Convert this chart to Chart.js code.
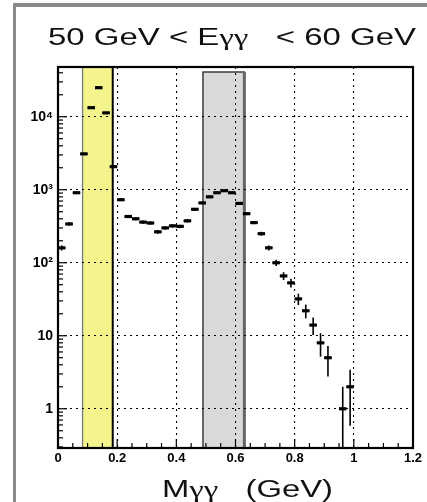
<!DOCTYPE html>
<html>
<head>
<meta charset="utf-8">
<script src="https://cdn.jsdelivr.net/npm/chart.js@4.4.1/dist/chart.umd.min.js"></script>
<style>
  html, body { margin: 0; padding: 0; background: #fff; }
  #wrap { position: relative; width: 427px; height: 502px; overflow: hidden; }
  #frame { position: absolute; left: 13px; top: 3px; right: 0; bottom: 0; border-left: 3px solid #8a8a8a; border-top: 4px solid #8a8a8a; pointer-events: none; }
  canvas { position: absolute; left: 0; top: 0; }
</style>
</head>
<body>
<div id="wrap">
  <canvas id="chart" width="427" height="502"></canvas>
  <div id="frame"></div>
</div>
<script>
// bin centres (GeV), bin width 0.025
const massBins = [0.0125, 0.0375, 0.0625, 0.0875, 0.1125, 0.1375, 0.1625, 0.1875, 0.2125, 0.2375,
                  0.2625, 0.2875, 0.3125, 0.3375, 0.3625, 0.3875, 0.4125, 0.4375, 0.4625, 0.4875,
                  0.5125, 0.5375, 0.5625, 0.5875, 0.6125, 0.6375, 0.6625, 0.6875, 0.7125, 0.7375,
                  0.7625, 0.7875, 0.8125, 0.8375, 0.8625, 0.8875, 0.9125, 0.9625, 0.9875];
const counts = [160, 340, 910, 3100, 13300, 25000, 11300, 2070, 730, 430,
                400, 360, 350, 265, 300, 320, 315, 375, 540, 660,
                800, 910, 970, 910, 650, 470, 355, 250, 160, 100,
                66, 53, 32, 22, 14, 8, 5, 1, 2];
const binWidth = 0.025;

const xTickValues = [0, 0.2, 0.4, 0.6, 0.8, 1, 1.2];
const xTickLabels = ['0', '0.2', '0.4', '0.6', '0.8', '1', '1.2'];
const yTickValues = [1, 10, 100, 1000, 10000];
const yTickLabels = ['1', '10', '10\u00b2', '10\u00b3', '10\u2074'];

const piBand = [0.083, 0.185];
const etaBand = [0.49, 0.63];
const etaBandTop = 41000;

const titleText = '50 GeV < E\u03b3\u03b3   < 60 GeV';
const xTitleText = 'M\u03b3\u03b3   (GeV)';

const sansFont = '"Liberation Sans", Arial, sans-serif';
const greekFont = '"Liberation Serif", "DejaVu Serif", serif';

function line(ctx, x1, y1, x2, y2) {
    ctx.beginPath();
    ctx.moveTo(x1, y1);
    ctx.lineTo(x2, y2);
    ctx.stroke();
}

// text stretched between two x positions, gammas in a serif face like ROOT's symbol font
function stretchedText(ctx, text, left, right, baseline, size) {
    const parts = text.split(/(\u03b3+)/).filter(p => p.length);
    ctx.save();
    const widths = parts.map(p => {
        ctx.font = size + 'px ' + (p[0] === '\u03b3' ? greekFont : sansFont);
        return ctx.measureText(p).width;
    });
    const total = widths.reduce((s, w) => s + w, 0);
    ctx.translate(left, baseline);
    ctx.scale((right - left) / total, 1);
    ctx.textAlign = 'left';
    ctx.textBaseline = 'alphabetic';
    ctx.fillStyle = '#111';
    let cx = 0;
    parts.forEach((p, i) => {
        ctx.font = size + 'px ' + (p[0] === '\u03b3' ? greekFont : sansFont);
        ctx.fillText(p, cx, 0);
        cx += widths[i];
    });
    ctx.restore();
}

const bands = {
    id: 'bands',
    beforeDraw(chart) {
        const {ctx, chartArea: a, scales: {x, y}} = chart;
        ctx.save();
        const pl = x.getPixelForValue(piBand[0]);
        const pr = x.getPixelForValue(piBand[1]);
        ctx.fillStyle = '#f4f48c';
        ctx.fillRect(pl, a.top, pr - pl, a.bottom - a.top);
        ctx.strokeStyle = '#777';
        ctx.lineWidth = 1.3;
        line(ctx, pl, a.top, pl, a.bottom);
        ctx.strokeStyle = '#000';
        ctx.lineWidth = 2;
        line(ctx, pr, a.top, pr, a.bottom);

        const gl = x.getPixelForValue(etaBand[0]);
        const gr = x.getPixelForValue(etaBand[1]);
        const gt = y.getPixelForValue(etaBandTop);
        ctx.fillStyle = '#d9d9d9';
        ctx.fillRect(gl, gt, gr - gl, a.bottom - gt);
        ctx.strokeStyle = '#222';
        ctx.lineWidth = 1.3;
        ctx.strokeRect(gl, gt, gr - gl, a.bottom - gt);
        ctx.strokeStyle = '#666';
        ctx.lineWidth = 3;
        line(ctx, gr, gt, gr, a.bottom);
        ctx.restore();
    }
};

const errorBars = {
    id: 'errorBars',
    afterDatasetsDraw(chart) {
        const {ctx, chartArea: a, scales: {x, y}} = chart;
        ctx.save();
        ctx.beginPath();
        ctx.rect(a.left, a.top, a.right - a.left, a.bottom - a.top);
        ctx.clip();
        ctx.strokeStyle = '#000';
        ctx.lineWidth = 1.6;
        massBins.forEach((m, i) => {
            const n = counts[i];
            const e = Math.sqrt(n);
            const px = x.getPixelForValue(m);
            const top = y.getPixelForValue(n + e);
            const bot = n - e > 0 ? y.getPixelForValue(n - e) : a.bottom;
            line(ctx, px, top, px, bot);
            line(ctx, x.getPixelForValue(m - binWidth / 2), y.getPixelForValue(n),
                      x.getPixelForValue(m + binWidth / 2), y.getPixelForValue(n));
        });
        ctx.restore();
    }
};

const frameTicks = {
    id: 'frameTicks',
    afterDraw(chart) {
        const {ctx, chartArea: a, scales: {x, y}} = chart;
        ctx.save();
        ctx.strokeStyle = '#000';
        ctx.lineWidth = 1.2;
        for (let k = 0; k <= 24; k++) {
            const px = x.getPixelForValue(k * 0.05);
            line(ctx, px, a.bottom, px, a.bottom - (k % 4 === 0 ? 9 : 5));
        }
        for (let d = -1; d <= 4; d++) {
            for (let m = 1; m <= 9; m++) {
                const v = m * Math.pow(10, d);
                if (v < y.min || v > y.max) continue;
                const py = y.getPixelForValue(v);
                line(ctx, a.left, py, a.left + (m === 1 ? 9 : 5), py);
            }
        }
        ctx.lineWidth = 2.2;
        ctx.strokeRect(a.left, a.top, a.right - a.left, a.bottom - a.top);
        ctx.restore();

        stretchedText(ctx, titleText, 48, 416, 45, 23);
        stretchedText(ctx, xTitleText, 162, 333, 497, 23);
    }
};

const tickFont = {family: sansFont, size: 13, weight: 'bold'};

new Chart(document.getElementById('chart'), {
    type: 'scatter',
    data: {
        datasets: [{
            data: massBins.map((m, i) => ({x: m, y: counts[i]})),
            pointStyle: 'line',
            pointRadius: 3.7,
            borderColor: '#000',
            backgroundColor: '#000',
            borderWidth: 3.2
        }]
    },
    options: {
        responsive: false,
        animation: false,
        events: [],
        layout: {
            padding: {left: 0, right: 14, top: 67, bottom: 0}
        },
        plugins: {
            legend: {display: false},
            tooltip: {enabled: false},
            title: {display: false}
        },
        scales: {
            x: {
                type: 'linear',
                min: 0,
                max: 1.2,
                afterBuildTicks: s => { s.ticks = xTickValues.map(v => ({value: v})); },
                afterFit: s => { s.height = 54; },
                ticks: {
                    color: '#000',
                    font: tickFont,
                    padding: 3,
                    maxRotation: 0,
                    autoSkip: false,
                    callback: (v, i) => xTickLabels[i]
                },
                grid: {color: '#000', lineWidth: 1.1, drawTicks: false},
                border: {display: false, dash: [2, 4]}
            },
            y: {
                type: 'logarithmic',
                min: 0.29,
                max: 48000,
                afterBuildTicks: s => { s.ticks = yTickValues.map(v => ({value: v})); },
                afterFit: s => { s.width = 58; },
                ticks: {
                    color: '#000',
                    font: {family: sansFont, size: 14, weight: 'bold'},
                    padding: 5,
                    autoSkip: false,
                    callback: (v, i) => yTickLabels[i]
                },
                grid: {color: '#000', lineWidth: 1.1, drawTicks: false},
                border: {display: false, dash: [2, 4]}
            }
        }
    },
    plugins: [bands, errorBars, frameTicks]
});
</script>
</body>
</html>
